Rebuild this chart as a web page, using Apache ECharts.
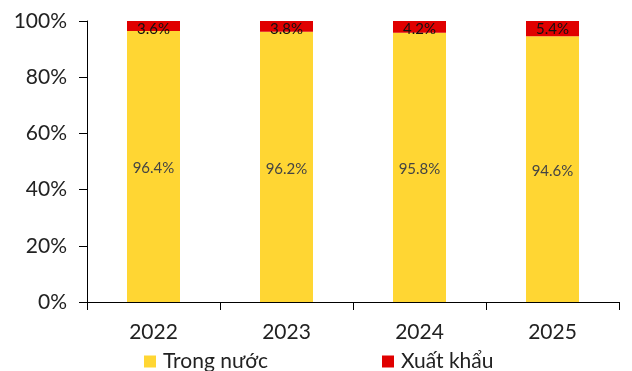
<!DOCTYPE html>
<html><head><meta charset="utf-8">
<script src="https://cdn.jsdelivr.net/npm/echarts@6/dist/echarts.min.js"></script>
<style>html,body{margin:0;padding:0;background:#fff}#c{width:632px;height:371px}</style>
</head><body><div id="c"></div>
<script>
const categories = ['2022', '2023', '2024', '2025'];
const domestic = [96.4, 96.2, 95.8, 94.6];
const exportShare = [3.6, 3.8, 4.2, 5.4];
const yTicks = [0, 20, 40, 60, 80, 100];
const seriesNames = ['Trong nước', 'Xuất khẩu'];

const font = 'Lato, "Noto Sans", sans-serif';
const legendBase = {
  top: 351, padding: 0, itemWidth: 12, itemHeight: 12, icon: 'rect',
  textStyle: {fontFamily: font, fontSize: 21, color: '#222', padding: [0,0,0,2]}
};
const chart = echarts.init(document.getElementById('c'), null, {renderer: 'canvas'});
chart.setOption({
  animation: false,
  backgroundColor: '#fff',
  grid: {left: 87, right: 13, top: 21, bottom: 69, containLabel: false},
  legend: [
    Object.assign({}, legendBase, {data: [seriesNames[0]], left: 144}),
    Object.assign({}, legendBase, {data: [seriesNames[1]], left: 382})
  ],
  xAxis: {
    type: 'category', data: categories,
    axisLine: {lineStyle: {color: '#000', width: 1}},
    axisTick: {show: true, length: 8, lineStyle: {color: '#000'}},
    axisLabel: {fontFamily: font, fontSize: 21, color: '#222', margin: 20}
  },
  yAxis: {
    type: 'value', min: yTicks[0], max: yTicks[yTicks.length-1], interval: 20,
    axisLine: {show: true, lineStyle: {color: '#000', width: 1}},
    axisTick: {show: true, length: 8, lineStyle: {color: '#000'}},
    splitLine: {show: false},
    axisLabel: {fontFamily: font, fontSize: 21, color: '#222', margin: 20, formatter: '{value}%'}
  },
  series: [
    {
      name: seriesNames[0], type: 'bar', stack: 'a', data: domestic, barWidth: 53,
      itemStyle: {color: '#FFD633'},
      label: {show: true, position: 'inside', offset: [0, 2], formatter: p => p.value.toFixed(1) + '%', fontFamily: font, fontSize: 15, color: '#444'}
    },
    {
      name: seriesNames[1], type: 'bar', stack: 'a', data: exportShare, barWidth: 53,
      itemStyle: {color: '#E00000'},
      label: {show: true, position: 'insideTop', distance: 1, formatter: p => p.value.toFixed(1) + '%', fontFamily: font, fontSize: 15, color: '#111'}
    }
  ]
});
</script></body></html>
